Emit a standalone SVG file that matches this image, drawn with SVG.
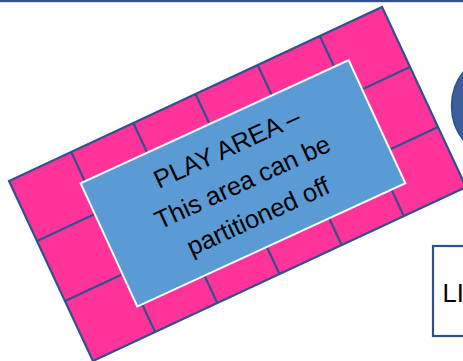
<svg xmlns="http://www.w3.org/2000/svg" width="463" height="361" viewBox="0 0 463 361">
  <style>
    .grid { stroke: #2F528F; stroke-width: 2.2; fill: none; }
    .pink { fill: #FF3399; stroke: #2F528F; stroke-width: 2.2; }
    .play { fill: #5B9BD5; stroke: #FFFFFF; stroke-width: 2; }
    .lbl { font-family: "Liberation Sans", Arial, sans-serif; font-size: 25.5px; fill: #000000; }
  </style>
  <rect x="0" y="0" width="463" height="361" fill="#FFFFFF"/>
  <rect id="top-border" x="0" y="0" width="463" height="2.2" fill="#2F528F"/>

  <g id="play-surround" transform="translate(237.5,184) rotate(-25)">
    <rect class="pink" x="-205.8" y="-99.3" width="411.6" height="198.6"/>
    <path class="grid" d="M-137.2,-99.3V99.3 M-68.6,-99.3V99.3 M0,-99.3V99.3 M68.6,-99.3V99.3 M137.2,-99.3V99.3 M-205.8,-33.1H205.8 M-205.8,33.1H205.8"/>
  </g>

  <g id="play-area" transform="translate(243,183.3) rotate(-24.7)">
    <rect class="play" x="-147.5" y="-67.8" width="295" height="135.6"/>
    <text class="lbl" text-anchor="middle" x="0" y="-30">PLAY AREA –</text>
    <text class="lbl" text-anchor="middle" x="0" y="7.5">This area can be</text>
    <text class="lbl" text-anchor="middle" x="0" y="45">partitioned off</text>
  </g>

  <g id="circle-node">
    <circle cx="507" cy="106" r="55.5" fill="#3C5C9C" stroke="#2F528F" stroke-width="1.5"/>
  </g>

  <g id="li-box">
    <rect x="433" y="246" width="40" height="90" fill="#FFFFFF" stroke="#2F528F" stroke-width="2.2"/>
    <text x="442.5" y="301.5" font-family="Liberation Sans, Arial, sans-serif" font-size="25.5" fill="#000000">LI</text>
  </g>

  <g id="connectors"></g>
</svg>
